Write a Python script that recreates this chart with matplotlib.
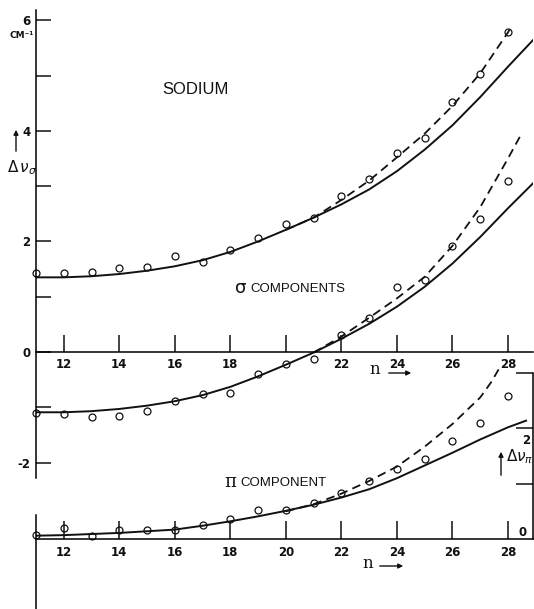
import matplotlib
matplotlib.use("Agg")
import matplotlib.pyplot as plt

# ---------------- data ----------------
n_obs = [11, 12, 13, 14, 15, 16, 17, 18, 19, 20, 21, 22, 23, 24, 25, 26, 27, 28]
sig_up_obs = [1.42, 1.43, 1.44, 1.52, 1.54, 1.74, 1.63, 1.84, 2.07, 2.31,
              2.43, 2.82, 3.13, 3.60, 3.87, 4.52, 5.02, 5.79]
sig_lo_obs = [-1.10, -1.13, -1.18, -1.15, -1.06, -0.88, -0.76, -0.75, -0.40, -0.22,
              -0.13, 0.30, 0.62, 1.17, 1.31, 1.92, 2.40, 3.09]
pi_obs = [0.08, 0.19, 0.05, 0.16, 0.16, 0.16, 0.25, 0.36, 0.53, 0.52,
          0.65, 0.83, 1.05, 1.26, 1.45, 1.77, 2.09, 2.59]

n_fit = [11, 12, 13, 14, 15, 16, 17, 18, 19, 20, 21, 22, 23, 24, 25, 26, 27, 28, 28.9]
sig_up_fit = [1.35, 1.35, 1.37, 1.41, 1.47, 1.55, 1.66, 1.81, 2.00, 2.21,
              2.43, 2.67, 2.94, 3.27, 3.66, 4.10, 4.61, 5.16, 5.64]
sig_lo_fit = [-1.09, -1.09, -1.07, -1.03, -0.97, -0.89, -0.78, -0.63, -0.44, -0.23,
              -0.01, 0.24, 0.51, 0.82, 1.18, 1.60, 2.08, 2.60, 3.05]
n_pi_fit = [11, 12, 13, 14, 15, 16, 17, 18, 19, 20, 21, 22, 23, 24, 25, 26, 27, 28, 28.65]
pi_fit = [0.06, 0.07, 0.09, 0.11, 0.14, 0.17, 0.24, 0.32, 0.41, 0.51,
          0.62, 0.75, 0.90, 1.10, 1.33, 1.56, 1.80, 2.02, 2.14]

n_up_dash = [20, 21, 22, 23, 24, 25, 26, 27, 28, 28.1]
sig_up_dash = [2.21, 2.43, 2.75, 3.10, 3.52, 3.95, 4.45, 5.04, 5.78, 5.87]
n_lo_dash = [21, 22, 23, 24, 25, 26, 27, 28, 28.5]
sig_lo_dash = [-0.01, 0.28, 0.62, 0.97, 1.36, 1.92, 2.62, 3.50, 3.96]
n_pi_dash = [20, 21, 22, 23, 24, 25, 26, 27, 27.4, 27.7]
pi_dash = [0.50, 0.63, 0.82, 1.05, 1.31, 1.67, 2.08, 2.56, 2.84, 3.10]

sig_xticks = [12, 14, 16, 18, 20, 22, 24, 26, 28]
sig_xlabels = ["12", "14", "16", "18", "", "22", "24", "26", "28"]
pi_xlabels = ["12", "14", "16", "18", "20", "22", "24", "26", "28"]
sig_yticks = [-2, 0, 2, 4, 6]
sig_yminor = [-1, 1, 3, 5]
pi_rticks = [1, 2, 3]

# ---------------- layout helpers ----------------
W, H, DPI = 534, 609, 100
fig = plt.figure(figsize=(W / DPI, H / DPI), dpi=DPI)
fig.patch.set_facecolor("white")


def fx(x):
    return x / W


def fy(p):
    return 1 - p / H


X0, X1 = 36, 533
N0, N1 = 11, 28.9
S = 55.3          # pixels per cm^-1
ZS, ZP = 352, 539  # pixel rows of the two zero lines
K = "#111111"
LW = 1.1

num_font = dict(family="DejaVu Sans", weight="bold", size=8.5)

# ---------------- sigma axes ----------------
ax = fig.add_axes([fx(X0), fy(478), fx(X1) - fx(X0), fy(10) - fy(478)])
ax.set_xlim(N0, N1)
ax.set_ylim((ZS - 478) / S, (ZS - 10) / S)
ax.patch.set_visible(False)
for s in ("top", "right"):
    ax.spines[s].set_visible(False)
ax.spines["left"].set_linewidth(LW)
ax.spines["bottom"].set_linewidth(LW)
ax.spines["bottom"].set_position(("data", 0))
ax.set_xticks(sig_xticks)
ax.set_xticklabels(sig_xlabels, fontdict=num_font)
ax.set_yticks(sig_yticks)
ax.set_yticklabels([str(v) for v in sig_yticks], fontdict=num_font)
ax.set_yticks(sig_yminor, minor=True)
ax.tick_params(axis="x", direction="in", length=12, width=LW, pad=4, colors=K)
ax.tick_params(axis="y", which="both", direction="in", length=11, width=LW, pad=4, colors=K)

ax.plot(n_fit, sig_up_fit, color=K, lw=1.4)
ax.plot(n_fit, sig_lo_fit, color=K, lw=1.4)
ax.plot(n_up_dash, sig_up_dash, color=K, lw=1.3, ls=(0, (4.8, 3.0)))
ax.plot(n_lo_dash, sig_lo_dash, color=K, lw=1.3, ls=(0, (4.8, 3.0)))
ax.plot(n_obs, sig_up_obs, "o", mfc="none", mec=K, ms=5, mew=0.9, clip_on=False)
ax.plot(n_obs, sig_lo_obs, "o", mfc="none", mec=K, ms=5, mew=0.9, clip_on=False)

# ---------------- pi axes ----------------
axp = fig.add_axes([fx(X0), 0, fx(X1) - fx(X0), fy(360)])
axp.set_xlim(N0, N1)
axp.set_ylim((ZP - 609) / S, (ZP - 360) / S)
axp.patch.set_visible(False)
axp.spines["top"].set_visible(False)
for s in ("left", "right", "bottom"):
    axp.spines[s].set_linewidth(LW)
axp.spines["bottom"].set_position(("data", 0))
axp.spines["left"].set_bounds((ZP - 609) / S, (ZP - 515) / S)
axp.spines["right"].set_bounds(0, 3)
axp.set_xticks(sig_xticks)
axp.set_xticklabels(pi_xlabels, fontdict=num_font)
axp.yaxis.set_ticks_position("right")
axp.set_yticks(pi_rticks)
axp.set_yticklabels([""] * len(pi_rticks))
axp.tick_params(axis="x", direction="in", length=13, width=LW, pad=5, colors=K)
axp.tick_params(axis="y", direction="in", length=12, width=LW, colors=K)

axp.plot(n_pi_fit, pi_fit, color=K, lw=1.4)
axp.plot(n_pi_dash, pi_dash, color=K, lw=1.3, ls=(0, (4.8, 3.0)))
axp.plot(n_obs, pi_obs, "o", mfc="none", mec=K, ms=5, mew=0.9, clip_on=False)

# ---------------- annotations ----------------
def ftext(x, p, s, **kw):
    kw.setdefault("ha", "center")
    kw.setdefault("va", "center")
    kw.setdefault("color", K)
    fig.text(fx(x), fy(p), s, **kw)


def farrow(x0, p0, x1, p1):
    fig.add_artist(matplotlib.patches.FancyArrowPatch(
        (fx(x0), fy(p0)), (fx(x1), fy(p1)), transform=fig.transFigure,
        arrowstyle="-|>", mutation_scale=7, lw=1.0, color=K))


ftext(195, 90, "SODIUM", family="Liberation Sans", size=12)
ftext(241, 288, "σ", family="DejaVu Sans", size=13)
ftext(298, 289, "COMPONENTS", family="Liberation Sans", size=9.5)
ftext(230, 482, "π", family="DejaVu Serif", size=13)
ftext(283, 483, "COMPONENT", family="Liberation Sans", size=9.5)
ftext(22, 35, "CM⁻¹", family="DejaVu Sans", weight="bold", size=6.5)

# y-axis labels
farrow(16, 154, 16, 127)
ftext(22, 168, r"$\Delta\,\nu_{\sigma}$", size=11)
farrow(501, 478, 501, 449)
ftext(520, 457, r"$\Delta\nu_{\pi}$", size=11)
ftext(526, 440, "2", **num_font)
ftext(523, 533, "0", **num_font)

# n arrows
ftext(375, 370, "n", family="DejaVu Serif", size=12)
farrow(386, 373, 414, 373)
ftext(368, 564, "n", family="DejaVu Serif", size=12)
farrow(377, 566, 406, 566)

fig.savefig("out.png", dpi=DPI, facecolor="white")
